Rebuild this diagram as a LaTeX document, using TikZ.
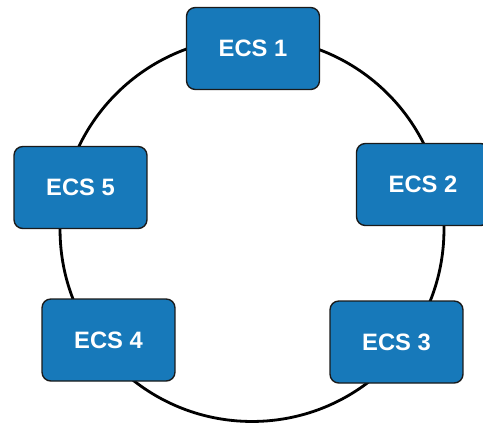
\documentclass[tikz,border=0pt]{standalone}
\usepackage{fontspec}
\setmainfont{Liberation Sans}
\usepackage{tikz}
\usetikzlibrary{backgrounds}
\definecolor{ecsCol}{HTML}{1779BA}
\definecolor{ecsEdge}{HTML}{1A1A1A}
\tikzset{
  ecsbox/.style={draw=ecsEdge, fill=ecsCol, rounded corners=5pt, align=center,
        font=\bfseries\fontsize{13.5}{16}\selectfont, text=white, line width=0.8pt,
        minimum width=2.66cm, minimum height=1.64cm},
  ring/.style={draw=black, line width=1.6pt},
}
\begin{document}
\begin{tikzpicture}[x=0.02cm, y=-0.02cm]
  \useasboundingbox (0,0) rectangle (483,423);
  \coordinate (c) at (252,229.5);
  \node[ecsbox] (e1) at (253,48.5) {ECS 1};
  \node[ecsbox] (e2) at (423,184.5) {ECS 2};
  \node[ecsbox] (e3) at (396.5,342) {ECS 3};
  \node[ecsbox] (e4) at (108.5,340) {ECS 4};
  \node[ecsbox] (e5) at (80.5,187.5) {ECS 5};
  \begin{scope}[on background layer]
    \draw[ring] (c) circle [radius=3.84cm];
  \end{scope}
\end{tikzpicture}
\end{document}
